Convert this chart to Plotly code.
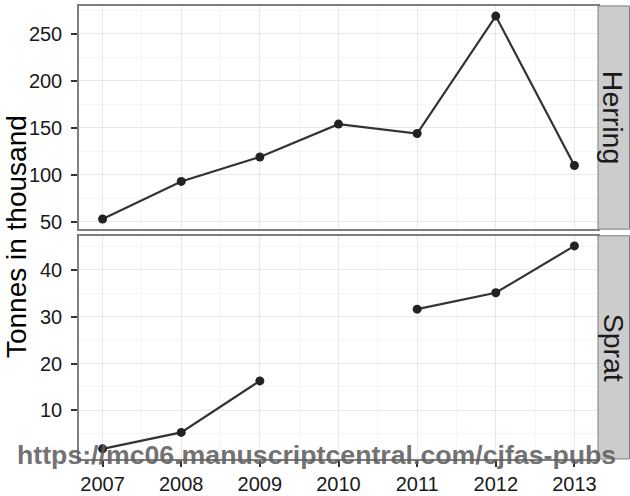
import plotly.graph_objects as go

years = [2007, 2008, 2009, 2010, 2011, 2012, 2013]
herring = [53, 93, 119, 154, 144, 269, 110]
sprat = [1.8, 5.3, 16.3, None, 31.6, 35.1, 45.1]
x_ticks = [2007, 2008, 2009, 2010, 2011, 2012, 2013]
herring_ticks = [50, 100, 150, 200, 250]
sprat_ticks = [10, 20, 30, 40]
species = ["Herring", "Sprat"]
y_title = "Tonnes in thousand"
watermark = "https://mc06.manuscriptcentral.com/cjfas-pubs"

W, H = 630, 496
FONT = "Liberation Sans, Arial, sans-serif"
x0, x1 = 79 / W, 598 / W
top_dom = [(H - 231) / H, (H - 6) / H]
bot_dom = [(H - 462.7) / H, (H - 237.7) / H]

def expand(vals):
    v = [a for a in vals if a is not None]
    lo, hi = min(v), max(v)
    d = (hi - lo) * 0.05
    return [lo - d, hi + d]

fig = go.Figure()
line = dict(color="#333333", width=2.2)
marker = dict(color="#222222", size=9)
fig.add_trace(go.Scatter(x=years, y=herring, mode="lines+markers", line=line,
                         marker=marker, xaxis="x2", yaxis="y2", showlegend=False))
fig.add_trace(go.Scatter(x=years, y=sprat, mode="lines+markers", line=line,
                         marker=marker, xaxis="x", yaxis="y", showlegend=False,
                         connectgaps=False))

xr = [2006.7, 2013.3]
grid = "#e8e8e8"
minor = dict(showgrid=True, gridcolor="#f5f5f5", gridwidth=1, ticks="")
common_x = dict(range=xr, domain=[x0, x1], tickvals=x_ticks, showgrid=True,
                gridcolor=grid, gridwidth=1.2, zeroline=False, showline=True,
                linecolor="#7f7f7f", linewidth=1.5, mirror=True,
                minor=dict(dtick=0.5, tick0=2006.5, **minor))
tick_common = dict(ticks="outside", ticklen=6, tickwidth=1.5, tickcolor="#333333",
                   tickfont=dict(size=20, color="#1a1a1a"))
fig.update_layout(
    width=W, height=H, margin=dict(l=0, r=0, t=0, b=0),
    paper_bgcolor="white", plot_bgcolor="white",
    font=dict(family=FONT, color="#1a1a1a"),
    xaxis=dict(anchor="y", **tick_common, **common_x),
    xaxis2=dict(anchor="y2", showticklabels=False, matches="x", **common_x),
    yaxis=dict(domain=bot_dom, range=expand(sprat), tickvals=sprat_ticks,
               anchor="x", ticklabelstandoff=5, **tick_common,
               showgrid=True, gridcolor=grid, gridwidth=1.2, zeroline=False,
               showline=True, linecolor="#7f7f7f", linewidth=1.5, mirror=True,
               minor=dict(dtick=5, tick0=5, **minor)),
    yaxis2=dict(domain=top_dom, range=expand(herring), tickvals=herring_ticks,
                anchor="x2", ticklabelstandoff=5, **tick_common,
                showgrid=True, gridcolor=grid, gridwidth=1.2, zeroline=False,
                showline=True, linecolor="#7f7f7f", linewidth=1.5, mirror=True,
                minor=dict(dtick=25, tick0=25, **minor)),
)

shapes = []
annos = []
for name, dom in zip(species, [top_dom, bot_dom]):
    shapes.append(dict(type="rect", xref="paper", yref="paper", x0=x1, x1=629.5 / W,
                       y0=dom[0], y1=dom[1], fillcolor="#cccccc",
                       line=dict(color="#7f7f7f", width=1)))
    annos.append(dict(text=name, xref="paper", yref="paper", x=(x1 + 629.5 / W) / 2,
                      y=(dom[0] + dom[1]) / 2, showarrow=False, textangle=90,
                      font=dict(size=28.5, color="#1a1a1a", family=FONT),
                      xanchor="center", yanchor="middle"))
annos.append(dict(text=y_title, xref="paper", yref="paper", x=16 / W, y=(H - 239) / H,
                  showarrow=False, textangle=-90, xanchor="center", yanchor="middle",
                  font=dict(size=28, color="#000000", family=FONT)))
annos.append(dict(text="<b>" + watermark + "</b>", xref="paper", yref="paper",
                  x=316 / W, y=(H - 459) / H, showarrow=False,
                  xanchor="center", yanchor="middle",
                  font=dict(size=26.7, color="rgba(95,95,95,0.9)", family=FONT)))
fig.update_layout(shapes=shapes, annotations=annos)
fig.write_html("out.html")
